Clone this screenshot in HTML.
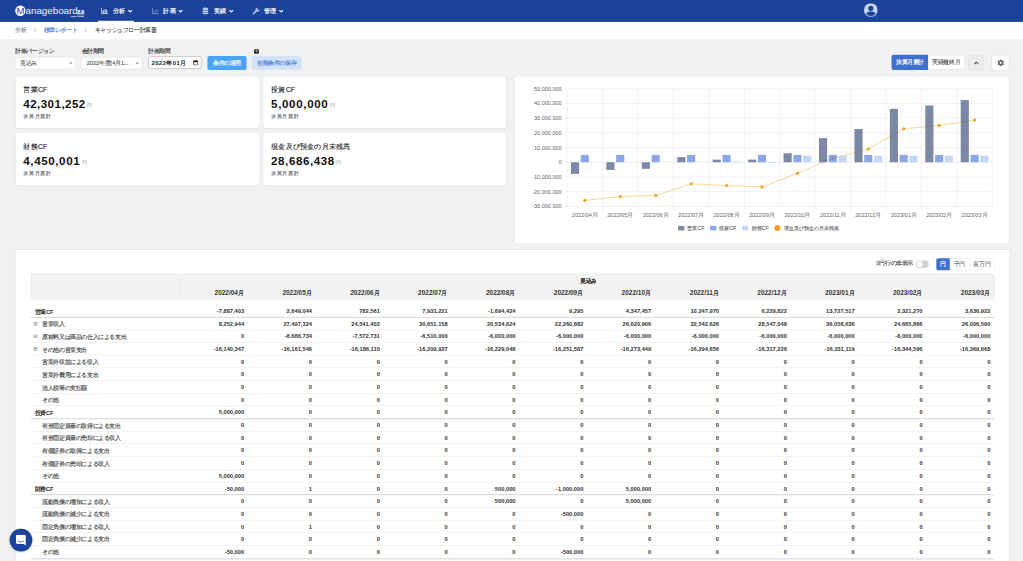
<!DOCTYPE html>
<html lang="ja">
<head>
<meta charset="utf-8">
<title>キャッシュフロー計算書</title>
<style>
*{box-sizing:border-box;margin:0;padding:0}
html,body{width:1023px;height:561px;overflow:hidden;background:#f1f1f1}
body{font-family:"Liberation Sans",sans-serif;color:#333}
#cv{position:absolute;left:0;top:0;width:2560px;height:1404px;transform:scale(0.399609);transform-origin:0 0;background:#f1f1f1;overflow:hidden;font-size:14px;line-height:1}
.abs{position:absolute;white-space:nowrap}
.tw{-webkit-text-stroke:.45px currentColor}
/* navbar */
#nav{position:absolute;left:0;top:0;width:2560px;height:55.05px;background:#1b439b}
.logo-c{position:absolute;left:38.04px;top:13.51px;width:26.03px;height:26.03px;border-radius:50%;background:#fff;color:#1b439b;font-weight:normal;font-size:24px;line-height:26.53px;text-align:center}
.logo-t{position:absolute;left:64.06px;top:13.26px;width:130.13px;font-size:24.6px;line-height:27.53px;color:#eef2fb;letter-spacing:-0.1px;overflow:hidden}
.logo-v{position:absolute;left:193.19px;top:25.02px;width:17.77px;font-size:12.6px;font-weight:bold;color:#fff;line-height:11.51px;border-bottom:1.6px solid #fff;height:13.01px;overflow:visible;-webkit-text-stroke:.6px #fff;letter-spacing:-.2px}
.logo-s{position:absolute;left:165.66px;top:39.04px;width:45.04px;height:4.0px;font-size:4.5px;line-height:4.0px;color:#fff;font-weight:bold;overflow:hidden;text-align:right}
.ni{position:absolute;top:0;height:55.05px;color:#fff}
.ni .t{position:absolute;top:19.02px;font-size:16px;font-weight:bold;line-height:17.52px;white-space:nowrap;width:35.03px;overflow:hidden}
.ni svg{position:absolute}
.ni.act{border-bottom:3.5px solid #fff}
/* breadcrumb */
#bc{position:absolute;left:0;top:55.05px;width:2560px;height:43.04px;background:#fff}
#bc .abs{-webkit-text-stroke:.35px currentColor;top:12.26px;font-size:14px;line-height:16.02px;overflow:hidden}
/* filters */
.flab{-webkit-text-stroke:.4px currentColor;position:absolute;top:119.87px;font-size:14px;line-height:16.02px;color:#444;white-space:nowrap;overflow:hidden}
.sel{-webkit-text-stroke:.3px currentColor;position:absolute;top:143.39px;height:29.53px;background:#fff;border:1.5px solid #d8d8d8;border-radius:5px;font-size:14px;line-height:26.53px;color:#555;white-space:nowrap;overflow:hidden;padding-left:11.76px}
.btn{-webkit-text-stroke:.4px currentColor;position:absolute;font-size:14px;text-align:center;white-space:nowrap;overflow:hidden}
.card{position:absolute;background:#fff;border-radius:8px;box-shadow:0 0 2px rgba(0,0,0,.08)}
.kt{-webkit-text-stroke:.3px currentColor;position:absolute;left:19.52px;top:24.52px;font-size:18px;line-height:20.02px;color:#222;white-space:nowrap;width:300.29px;overflow:hidden}
.kv{position:absolute;left:19.02px;top:53.8px;font-size:29px;font-weight:bold;line-height:30.03px;color:#111;white-space:nowrap;letter-spacing:1.1px}
.kv span{font-size:12px;font-weight:normal;color:#888;margin-left:3.25px;letter-spacing:0;position:relative;top:-1px}
.ks{-webkit-text-stroke:.4px currentColor;position:absolute;left:19.52px;top:93.34px;font-size:13.5px;line-height:15.01px;color:#777;white-space:nowrap;width:100.1px;overflow:hidden}
svg.chart{position:absolute;left:0;top:0}
svg.chart text{font-family:"Liberation Sans",sans-serif}
.tk{font-size:5.55px;fill:#666}
.lg{font-size:5.3px;fill:#666;stroke:#666;stroke-width:.12px}
/* table */
#tcard{position:absolute;left:39.29px;top:625.36px;width:2486.68px;height:825.81px;background:#fff;box-shadow:0 0 0 1px #dedede;border-radius:6px}
#thead{position:absolute;left:37.54px;top:59.56px;width:2412.11px;height:64.06px;background:#f2f2f2;border:1px solid #e3e3e3}
#thead .vl{position:absolute;left:373.61px;top:0;width:1px;height:100%;background:#e3e3e3}
.hc{position:absolute;top:37.29px;height:17.52px;line-height:17.52px;font-size:16.2px;font-weight:bold;color:#333;text-align:right;padding-right:11.01px;white-space:nowrap}
.r{position:absolute;left:37.54px;width:2412.11px;height:31.72px;border-bottom:1px solid #e1e1e1}
.r.sec{border-bottom:2px solid #cdcdcd;height:32.41px}
.r.last{border-bottom:3.6px solid #d6dce6;height:35.03px}
.r .l{-webkit-text-stroke:.45px currentColor;position:absolute;left:0;top:0;width:372.86px;height:100%;line-height:34.03px;font-size:14px;color:#555;white-space:nowrap;overflow:hidden}
.r .l.sec{font-weight:bold;color:#2a2a2a;padding-left:10.01px;-webkit-text-stroke:0}
.r .lt{position:absolute;left:29.03px;top:0}
.pl{position:absolute;left:7.51px;top:10.76px;width:9.76px;height:9.76px}
.r .c{position:absolute;top:0;height:100%;line-height:33.78px;font-size:14.3px;font-weight:bold;color:#333;text-align:right;padding-right:10.51px;white-space:nowrap}
</style>
</head>
<body>
<div id="cv">

<!-- NAVBAR -->
<div id="nav">
  <div class="logo-c">M</div>
  <div class="logo-t">anageboard</div>
  <div class="logo-v">2.0</div>
  <div class="logo-s">Money Forward</div>

  <div class="ni act" style="left:245.24px;width:90.09px">
    <svg style="left:8.01px;top:20.02px" width="17.52" height="15.01" viewBox="0 0 14 12"><path d="M1 0v11h13" fill="none" stroke="#c9d6f2" stroke-width="1.9"/><path d="M4.6 9.4V4.6M7.8 9.4V2.4M11 9.4V3.6" stroke="#c9d6f2" stroke-width="2.3"/></svg>
    <div class="t" style="left:37.54px">分析</div>
    <svg style="left:75.07px;top:23.52px" width="11.51" height="8.51" viewBox="0 0 10 7"><path d="M1 1l4 4 4-4" fill="none" stroke="#fff" stroke-width="2.4"/></svg>
  </div>
  <div class="ni" style="left:371.11px;width:90.09px">
    <svg style="left:8.51px;top:20.02px" width="17.52" height="15.01" viewBox="0 0 14 12"><path d="M1 0v11h13" fill="none" stroke="#8fa6d8" stroke-width="1.6"/><path d="M3.5 8l3-3 2.5 2 3.5-4" fill="none" stroke="#8fa6d8" stroke-width="1.6"/></svg>
    <div class="t" style="left:37.29px">計画</div>
    <svg style="left:75.32px;top:23.52px" width="11.51" height="8.51" viewBox="0 0 10 7"><path d="M1 1l4 4 4-4" fill="none" stroke="#fff" stroke-width="2.4"/></svg>
  </div>
  <div class="ni" style="left:496.99px;width:90.09px">
    <svg style="left:9.26px;top:18.27px" width="16.02" height="19.02" viewBox="0 0 12 14"><ellipse cx="6" cy="3" rx="5.5" ry="2.6" fill="#b9cbf2"/><path d="M.5 5.2c1 1.6 10 1.6 11 0v2.6c-1 1.7-10 1.7-11 0zM.5 9c1 1.6 10 1.6 11 0v2.6c-1 1.9-10 1.9-11 0z" fill="#c9d6f2"/></svg>
    <div class="t" style="left:37.79px">実績</div>
    <svg style="left:76.07px;top:23.52px" width="11.51" height="8.51" viewBox="0 0 10 7"><path d="M1 1l4 4 4-4" fill="none" stroke="#fff" stroke-width="2.4"/></svg>
  </div>
  <div class="ni" style="left:622.86px;width:90.09px">
    <svg style="left:9.26px;top:19.02px" width="17.52" height="17.52" viewBox="0 0 14 14"><path d="M1.2 12.8L7.5 6.4" stroke="#b9cbf2" stroke-width="3.3" stroke-linecap="round" fill="none"/><path d="M13.4 3.2l-2.2 2.2-2-.6-.6-2L10.8.6A3.6 3.6 0 0 0 6.4 5.6l1.9 1.9A3.6 3.6 0 0 0 13.4 3.2z" fill="#b9cbf2" stroke="#b9cbf2" stroke-width=".8"/></svg>
    <div class="t" style="left:37.54px">管理</div>
    <svg style="left:74.82px;top:23.52px" width="11.51" height="8.51" viewBox="0 0 10 7"><path d="M1 1l4 4 4-4" fill="none" stroke="#fff" stroke-width="2.4"/></svg>
  </div>

  <svg class="abs" style="left:2161.61px;top:7.76px" width="34.53" height="34.53" viewBox="0 0 28 28"><circle cx="14" cy="14" r="14" fill="#c7d7f7"/><circle cx="14" cy="10.4" r="5.2" fill="#1b439b"/><path d="M4.2 21.4c1.6-3.2 5.4-4.4 9.8-4.4s8.200 1.200 9.800 4.400A11.800 11.800 0 0 1 14 26a11.800 11.800 0 0 1-9.800-4.600z" fill="#1b439b"/></svg>
</div>

<!-- BREADCRUMB -->
<div id="bc">
  <div class="abs" style="left:38.04px;color:#8a8a8a;width:28.03px">分析</div>
  <svg class="abs" style="left:84.08px;top:15.01px" width="8.51" height="11.51" viewBox="0 0 7 10"><path d="M1 1l4.4 4L1 9" fill="none" stroke="#888" stroke-width="1.3"/></svg>
  <div class="abs" style="left:109.11px;color:#4c82d8;width:84.08px">標準レポート</div>
  <svg class="abs" style="left:210.71px;top:15.01px" width="8.51" height="11.51" viewBox="0 0 7 10"><path d="M1 1l4.4 4L1 9" fill="none" stroke="#888" stroke-width="1.3"/></svg>
  <div class="abs" style="left:237.48px;color:#555;width:155.15px">キャッシュフロー計算書</div>
</div>

<!-- FILTERS -->
<div class="flab" style="left:38.04px;width:98.1px">計画バージョン</div>
<div class="flab" style="left:204.2px;width:56.56px">会計期間</div>
<div class="flab" style="left:370.86px;width:56.56px">計画期間</div>
<div class="sel" style="left:38.04px;width:151.15px">見込み
  <svg class="abs" style="left:133.13px;top:11.01px" width="9.01" height="6.51" viewBox="0 0 10 7"><path d="M1 1l4 4 4-4" fill="none" stroke="#555" stroke-width="2.4"/></svg></div>
<div class="sel" style="left:204.2px;width:152.15px">2022年度(4月1...
  <svg class="abs" style="left:133.63px;top:11.01px" width="9.01" height="6.51" viewBox="0 0 10 7"><path d="M1 1l4 4 4-4" fill="none" stroke="#555" stroke-width="2.4"/></svg></div>
<div class="sel" style="left:370.86px;top:140.89px;width:133.63px;height:31.03px;border:1px solid #8d8d8d;border-radius:4px;padding-left:7.01px;font-size:15px;color:#222;font-weight:bold;line-height:29.53px;letter-spacing:1px;-webkit-text-stroke:0">2022年01月
  <svg class="abs" style="left:111.61px;top:8.51px" width="13.51" height="14.01" viewBox="0 0 11 12"><rect x="1" y="2" width="9" height="9" rx="1.2" fill="none" stroke="#222" stroke-width="1.6"/><rect x="1" y="2" width="9" height="3" fill="#222"/><path d="M3.2 0v3M7.8 0v3" stroke="#222" stroke-width="1.4"/></svg></div>
<div class="btn" style="left:519.26px;top:140.14px;width:97.35px;height:35.28px;line-height:35.28px;background:#4ca3f6;color:#fff;border-radius:5px">条件の適用</div>
<svg class="abs" style="left:634.87px;top:121.62px" width="13.76" height="13.76" viewBox="0 0 12 12"><circle cx="6" cy="6" r="6" fill="#333"/><path d="M4.2 4.6c0-2.6 4-2.4 3.8-.2-.1 1.3-1.8 1.4-1.9 2.8" fill="none" stroke="#fff" stroke-width="1.5"/><circle cx="6.1" cy="9.3" r=".95" fill="#fff"/></svg>
<div class="btn" style="left:630.12px;top:140.14px;width:124.62px;height:35.28px;line-height:35.28px;background:#d5e3fa;color:#4a7fd8;border-radius:5px">初期条件の保存</div>

<!-- right controls -->
<div class="btn" style="left:2231.43px;top:137.38px;width:91.34px;height:38.04px;line-height:38.04px;background:#3e70cc;color:#fff;font-weight:bold;-webkit-text-stroke:0;border-radius:5px 0 0 5px">決算月累計</div>
<div class="btn" style="left:2322.77px;top:137.38px;width:90.84px;height:38.04px;line-height:36.54px;background:#fff;color:#3a3a3a;-webkit-text-stroke:.15px currentColor;border:1.6px solid #d6d6d6;border-left:0;border-radius:0 5px 5px 0">実績最終月</div>
<div class="btn" style="left:2423.37px;top:137.88px;width:37.79px;height:37.54px;background:#ececec;border:1.6px solid #d4d4d4;border-radius:5px">
  <svg class="abs" style="left:12.76px;top:14.26px" width="12.51" height="8.51" viewBox="0 0 10 7"><path d="M1 6l4-4 4 4" fill="none" stroke="#5e5e5e" stroke-width="2.5"/></svg></div>
<div class="btn" style="left:2481.42px;top:137.88px;width:44.54px;height:37.79px;background:#fff;border:1.6px solid #dcdcdc;border-radius:5px;box-shadow:0 1px 2px rgba(0,0,0,.06)">
  <svg class="abs" style="left:13.76px;top:10.26px" width="16.52" height="16.52" viewBox="0 0 14 14"><path d="M5.20 2.01L5.83 0.10L8.17 0.10L8.80 2.01L10.42 2.95L12.39 2.54L13.56 4.56L12.22 6.06L12.22 7.94L13.56 9.44L12.39 11.46L10.42 11.05L8.80 11.99L8.17 13.90L5.83 13.90L5.20 11.99L3.58 11.05L1.61 11.46L0.44 9.44L1.78 7.94L1.78 6.06L0.44 4.56L1.61 2.54L3.58 2.95z" fill="#666" stroke="#666" stroke-width=".8" stroke-linejoin="round"/><circle cx="7" cy="7" r="2.3" fill="#fff"/></svg></div>

<!-- KPI cards -->
<div class="card" style="left:39.29px;top:190.94px;width:608.34px;height:130.38px"><div class="kt">営業CF</div><div class="kv">42,301,252<span>円</span></div><div class="ks">決算月累計</div></div>
<div class="card" style="left:659.39px;top:190.94px;width:607.84px;height:130.38px"><div class="kt">投資CF</div><div class="kv" style="letter-spacing:1.6px">5,000,000<span>円</span></div><div class="ks">決算月累計</div></div>
<div class="card" style="left:39.29px;top:333.33px;width:608.34px;height:130.38px"><div class="kt">財務CF</div><div class="kv" style="letter-spacing:1.5px">4,450,001<span>円</span></div><div class="ks">決算月累計</div></div>
<div class="card" style="left:659.39px;top:333.33px;width:607.84px;height:130.38px"><div class="kt">現金及び預金の月末残高</div><div class="kv" style="letter-spacing:1.4px">28,686,438<span>円</span></div><div class="ks">決算月累計</div></div>

<!-- chart card -->
<div class="card" style="left:1288.26px;top:190.94px;width:1237.71px;height:417.41px">
<svg class="chart" viewBox="514.8 76.3 494.6 166.8" width="1237.71" height="417.41">
<line x1="563.60" y1="206.34" x2="992.40" y2="206.34" stroke="#dddddd" stroke-width="0.4"/>
<text x="561.80" y="208.29" text-anchor="end" class="tk">-30,000,000</text>
<line x1="563.60" y1="191.64" x2="992.40" y2="191.64" stroke="#dddddd" stroke-width="0.4"/>
<text x="561.80" y="193.59" text-anchor="end" class="tk">-20,000,000</text>
<line x1="563.60" y1="176.94" x2="992.40" y2="176.94" stroke="#dddddd" stroke-width="0.4"/>
<text x="561.80" y="178.89" text-anchor="end" class="tk">-10,000,000</text>
<line x1="563.60" y1="162.24" x2="992.40" y2="162.24" stroke="#dddddd" stroke-width="0.4"/>
<text x="561.80" y="164.19" text-anchor="end" class="tk">0</text>
<line x1="563.60" y1="147.54" x2="992.40" y2="147.54" stroke="#dddddd" stroke-width="0.4"/>
<text x="561.80" y="149.49" text-anchor="end" class="tk">10,000,000</text>
<line x1="563.60" y1="132.84" x2="992.40" y2="132.84" stroke="#dddddd" stroke-width="0.4"/>
<text x="561.80" y="134.79" text-anchor="end" class="tk">20,000,000</text>
<line x1="563.60" y1="118.14" x2="992.40" y2="118.14" stroke="#dddddd" stroke-width="0.4"/>
<text x="561.80" y="120.09" text-anchor="end" class="tk">30,000,000</text>
<line x1="563.60" y1="103.44" x2="992.40" y2="103.44" stroke="#dddddd" stroke-width="0.4"/>
<text x="561.80" y="105.39" text-anchor="end" class="tk">40,000,000</text>
<line x1="563.60" y1="88.74" x2="992.40" y2="88.74" stroke="#dddddd" stroke-width="0.4"/>
<text x="561.80" y="90.69" text-anchor="end" class="tk">50,000,000</text>
<line x1="567.20" y1="88.74" x2="567.20" y2="209.94" stroke="#dddddd" stroke-width="0.4"/>
<line x1="602.63" y1="88.74" x2="602.63" y2="209.94" stroke="#dddddd" stroke-width="0.4"/>
<line x1="638.07" y1="88.74" x2="638.07" y2="209.94" stroke="#dddddd" stroke-width="0.4"/>
<line x1="673.50" y1="88.74" x2="673.50" y2="209.94" stroke="#dddddd" stroke-width="0.4"/>
<line x1="708.93" y1="88.74" x2="708.93" y2="209.94" stroke="#dddddd" stroke-width="0.4"/>
<line x1="744.37" y1="88.74" x2="744.37" y2="209.94" stroke="#dddddd" stroke-width="0.4"/>
<line x1="779.80" y1="88.74" x2="779.80" y2="209.94" stroke="#dddddd" stroke-width="0.4"/>
<line x1="815.23" y1="88.74" x2="815.23" y2="209.94" stroke="#dddddd" stroke-width="0.4"/>
<line x1="850.67" y1="88.74" x2="850.67" y2="209.94" stroke="#dddddd" stroke-width="0.4"/>
<line x1="886.10" y1="88.74" x2="886.10" y2="209.94" stroke="#dddddd" stroke-width="0.4"/>
<line x1="921.53" y1="88.74" x2="921.53" y2="209.94" stroke="#dddddd" stroke-width="0.4"/>
<line x1="956.97" y1="88.74" x2="956.97" y2="209.94" stroke="#dddddd" stroke-width="0.4"/>
<line x1="992.40" y1="88.74" x2="992.40" y2="209.94" stroke="#dddddd" stroke-width="0.4"/>
<polyline fill="none" stroke="#f7c46f" stroke-width="0.7" points="584.92,200.46 620.35,196.57 655.78,195.42 691.22,183.76 726.65,185.52 762.08,186.97 797.52,173.23 832.95,158.17 868.38,149.01 903.82,128.83 939.25,125.42 974.68,120.07"/>
<circle cx="584.92" cy="200.46" r="1.65" fill="#f2a52b"/>
<circle cx="620.35" cy="196.57" r="1.65" fill="#f2a52b"/>
<circle cx="655.78" cy="195.42" r="1.65" fill="#f2a52b"/>
<circle cx="691.22" cy="183.76" r="1.65" fill="#f2a52b"/>
<circle cx="726.65" cy="185.52" r="1.65" fill="#f2a52b"/>
<circle cx="762.08" cy="186.97" r="1.65" fill="#f2a52b"/>
<circle cx="797.52" cy="173.23" r="1.65" fill="#f2a52b"/>
<circle cx="832.95" cy="158.17" r="1.65" fill="#f2a52b"/>
<circle cx="868.38" cy="149.01" r="1.65" fill="#f2a52b"/>
<circle cx="903.82" cy="128.83" r="1.65" fill="#f2a52b"/>
<circle cx="939.25" cy="125.42" r="1.65" fill="#f2a52b"/>
<circle cx="974.68" cy="120.07" r="1.65" fill="#f2a52b"/>
<rect x="571.05" y="162.24" width="8.14" height="11.59" fill="rgba(50,70,115,.64)"/>
<rect x="580.85" y="154.89" width="8.14" height="7.35" fill="rgba(90,130,220,.7)"/>
<rect x="590.65" y="162.24" width="8.14" height="0.07" fill="rgba(165,195,248,.65)"/>
<rect x="606.48" y="162.24" width="8.14" height="7.70" fill="rgba(50,70,115,.64)"/>
<rect x="616.28" y="154.89" width="8.14" height="7.35" fill="rgba(90,130,220,.7)"/>
<rect x="626.08" y="162.24" width="8.14" height="0.07" fill="rgba(165,195,248,.65)"/>
<rect x="641.91" y="162.24" width="8.14" height="6.55" fill="rgba(50,70,115,.64)"/>
<rect x="651.71" y="154.89" width="8.14" height="7.35" fill="rgba(90,130,220,.7)"/>
<rect x="661.52" y="162.24" width="8.14" height="0.07" fill="rgba(165,195,248,.65)"/>
<rect x="677.35" y="157.13" width="8.14" height="5.11" fill="rgba(50,70,115,.64)"/>
<rect x="687.15" y="154.89" width="8.14" height="7.35" fill="rgba(90,130,220,.7)"/>
<rect x="696.95" y="162.24" width="8.14" height="0.07" fill="rgba(165,195,248,.65)"/>
<rect x="712.78" y="159.62" width="8.14" height="2.62" fill="rgba(50,70,115,.64)"/>
<rect x="722.58" y="154.89" width="8.14" height="7.35" fill="rgba(90,130,220,.7)"/>
<rect x="732.38" y="161.58" width="8.14" height="0.66" fill="rgba(165,195,248,.65)"/>
<rect x="748.21" y="159.61" width="8.14" height="2.63" fill="rgba(50,70,115,.64)"/>
<rect x="758.01" y="154.89" width="8.14" height="7.35" fill="rgba(90,130,220,.7)"/>
<rect x="767.82" y="162.24" width="8.14" height="0.81" fill="rgba(165,195,248,.65)"/>
<rect x="783.65" y="153.22" width="8.14" height="9.02" fill="rgba(50,70,115,.64)"/>
<rect x="793.45" y="154.89" width="8.14" height="7.35" fill="rgba(90,130,220,.7)"/>
<rect x="803.25" y="155.70" width="8.14" height="6.54" fill="rgba(165,195,248,.65)"/>
<rect x="819.08" y="138.15" width="8.14" height="24.09" fill="rgba(50,70,115,.64)"/>
<rect x="828.88" y="154.89" width="8.14" height="7.35" fill="rgba(90,130,220,.7)"/>
<rect x="838.68" y="155.70" width="8.14" height="6.54" fill="rgba(165,195,248,.65)"/>
<rect x="854.51" y="129.00" width="8.14" height="33.24" fill="rgba(50,70,115,.64)"/>
<rect x="864.31" y="154.89" width="8.14" height="7.35" fill="rgba(90,130,220,.7)"/>
<rect x="874.12" y="155.70" width="8.14" height="6.54" fill="rgba(165,195,248,.65)"/>
<rect x="889.95" y="108.82" width="8.14" height="53.42" fill="rgba(50,70,115,.64)"/>
<rect x="899.75" y="154.89" width="8.14" height="7.35" fill="rgba(90,130,220,.7)"/>
<rect x="909.55" y="155.70" width="8.14" height="6.54" fill="rgba(165,195,248,.65)"/>
<rect x="925.38" y="105.40" width="8.14" height="56.84" fill="rgba(50,70,115,.64)"/>
<rect x="935.18" y="154.89" width="8.14" height="7.35" fill="rgba(90,130,220,.7)"/>
<rect x="944.98" y="155.70" width="8.14" height="6.54" fill="rgba(165,195,248,.65)"/>
<rect x="960.81" y="100.06" width="8.14" height="62.18" fill="rgba(50,70,115,.64)"/>
<rect x="970.61" y="154.89" width="8.14" height="7.35" fill="rgba(90,130,220,.7)"/>
<rect x="980.42" y="155.70" width="8.14" height="6.54" fill="rgba(165,195,248,.65)"/>
<text x="584.92" y="217.1" text-anchor="middle" class="tk">2022/04月</text>
<text x="620.35" y="217.1" text-anchor="middle" class="tk">2022/05月</text>
<text x="655.78" y="217.1" text-anchor="middle" class="tk">2022/06月</text>
<text x="691.22" y="217.1" text-anchor="middle" class="tk">2022/07月</text>
<text x="726.65" y="217.1" text-anchor="middle" class="tk">2022/08月</text>
<text x="762.08" y="217.1" text-anchor="middle" class="tk">2022/09月</text>
<text x="797.52" y="217.1" text-anchor="middle" class="tk">2022/10月</text>
<text x="832.95" y="217.1" text-anchor="middle" class="tk">2022/11月</text>
<text x="868.38" y="217.1" text-anchor="middle" class="tk">2022/12月</text>
<text x="903.82" y="217.1" text-anchor="middle" class="tk">2023/01月</text>
<text x="939.25" y="217.1" text-anchor="middle" class="tk">2023/02月</text>
<text x="974.68" y="217.1" text-anchor="middle" class="tk">2023/03月</text>
<rect x="678.2" y="225.9" width="6.2" height="4.5" fill="#7e8ba8"/><text x="687.5" y="229.8" class="lg">営業CF</text>
<rect x="710.2" y="225.9" width="6.2" height="4.5" fill="#8aa6e6"/><text x="719.4" y="229.8" class="lg">投資CF</text>
<rect x="742.1" y="225.9" width="6.2" height="4.5" fill="#c4d6fa"/><text x="751.7" y="229.8" class="lg">財務CF</text>
<circle cx="777.6" cy="228" r="3.1" fill="#f2a52b"/><text x="783.8" y="229.8" class="lg">現金及び預金の月末残高</text>
</svg>
</div>

<!-- table card -->
<div id="tcard">
  <div class="abs" style="left:2153.6px;top:27.03px;width:95.09px;font-size:13.8px;line-height:16.02px;color:#4a4a4a;-webkit-text-stroke:.4px currentColor;overflow:hidden">0円行の非表示</div>
  <div class="abs" style="left:2252.95px;top:26.28px;width:32.28px;height:18.02px;border-radius:9.01px;background:#d2d2d2"><div style="position:absolute;left:1.5px;top:1.5px;width:15.01px;height:15.01px;border-radius:50%;background:#fff"></div></div>
  <div class="btn" style="left:2303.25px;top:20.77px;width:34.03px;height:29.53px;line-height:29.53px;background:#3e70cc;color:#fff;font-weight:bold;-webkit-text-stroke:0;border-radius:4px 0 0 4px">円</div>
  <div class="btn" style="left:2337.28px;top:20.77px;width:49.3px;height:29.53px;line-height:28.53px;background:#fff;color:#444;-webkit-text-stroke:0;border:1.5px solid #d8d8d8;border-left:0">千円</div>
  <div class="btn" style="left:2386.58px;top:20.77px;width:62.81px;height:29.53px;line-height:28.53px;background:#fff;color:#444;-webkit-text-stroke:0;border:1.5px solid #d8d8d8;border-left:0;border-radius:0 4px 4px 0">百万円</div>

  <div id="thead"><div class="vl"></div>
    <div class="abs" style="left:1373.84px;top:8.51px;font-size:14px;font-weight:bold;-webkit-text-stroke:.3px currentColor;line-height:16.02px;color:#333;width:39.04px;overflow:hidden">見込み</div>
    <div class="hc" style="left:374.92px;width:169.77px">2022/04月</div><div class="hc" style="left:544.68px;width:169.77px">2022/05月</div><div class="hc" style="left:714.45px;width:169.77px">2022/06月</div><div class="hc" style="left:884.21px;width:169.77px">2022/07月</div><div class="hc" style="left:1053.98px;width:169.77px">2022/08月</div><div class="hc" style="left:1223.75px;width:169.77px">2022/09月</div><div class="hc" style="left:1393.51px;width:169.77px">2022/10月</div><div class="hc" style="left:1563.28px;width:169.77px">2022/11月</div><div class="hc" style="left:1733.04px;width:169.77px">2022/12月</div><div class="hc" style="left:1902.81px;width:169.77px">2023/01月</div><div class="hc" style="left:2072.57px;width:169.77px">2023/02月</div><div class="hc" style="left:2242.34px;width:169.77px">2023/03月</div>
  </div>
<div class="r sec" style="top:137.2px"><div class="l sec">営業CF</div><div class="c" style="left:374.92px;width:169.77px">-7,887,403</div><div class="c" style="left:544.68px;width:169.77px">2,649,044</div><div class="c" style="left:714.45px;width:169.77px">782,561</div><div class="c" style="left:884.21px;width:169.77px">7,931,221</div><div class="c" style="left:1053.98px;width:169.77px">-1,694,424</div><div class="c" style="left:1223.75px;width:169.77px">9,295</div><div class="c" style="left:1393.51px;width:169.77px">4,347,457</div><div class="c" style="left:1563.28px;width:169.77px">10,247,970</div><div class="c" style="left:1733.04px;width:169.77px">6,229,822</div><div class="c" style="left:1902.81px;width:169.77px">13,727,517</div><div class="c" style="left:2072.57px;width:169.77px">2,321,270</div><div class="c" style="left:2242.34px;width:169.77px">3,636,922</div></div>
<div class="r exp" style="top:168.91px"><div class="l"><svg class="pl" viewBox="0 0 10 10"><rect x=".8" y=".8" width="8.4" height="8.4" fill="none" stroke="#707070" stroke-width="1.5"/><path d="M5 2.6v4.8M2.6 5h4.8" stroke="#707070" stroke-width="1.5"/></svg><span class="lt">営業収入</span></div><div class="c" style="left:374.92px;width:169.77px">8,252,944</div><div class="c" style="left:544.68px;width:169.77px">27,497,324</div><div class="c" style="left:714.45px;width:169.77px">24,541,402</div><div class="c" style="left:884.21px;width:169.77px">30,651,158</div><div class="c" style="left:1053.98px;width:169.77px">20,534,624</div><div class="c" style="left:1223.75px;width:169.77px">22,260,882</div><div class="c" style="left:1393.51px;width:169.77px">26,620,906</div><div class="c" style="left:1563.28px;width:169.77px">32,542,626</div><div class="c" style="left:1733.04px;width:169.77px">28,547,048</div><div class="c" style="left:1902.81px;width:169.77px">36,058,636</div><div class="c" style="left:2072.57px;width:169.77px">24,665,866</div><div class="c" style="left:2242.34px;width:169.77px">26,006,590</div></div>
<div class="r exp" style="top:200.63px"><div class="l"><svg class="pl" viewBox="0 0 10 10"><rect x=".8" y=".8" width="8.4" height="8.4" fill="none" stroke="#707070" stroke-width="1.5"/><path d="M5 2.6v4.8M2.6 5h4.8" stroke="#707070" stroke-width="1.5"/></svg><span class="lt">原材料又は商品の仕入による支出</span></div><div class="c" style="left:374.92px;width:169.77px">0</div><div class="c" style="left:544.68px;width:169.77px">-8,686,734</div><div class="c" style="left:714.45px;width:169.77px">-7,572,731</div><div class="c" style="left:884.21px;width:169.77px">-6,510,000</div><div class="c" style="left:1053.98px;width:169.77px">-6,000,000</div><div class="c" style="left:1223.75px;width:169.77px">-6,000,000</div><div class="c" style="left:1393.51px;width:169.77px">-6,000,000</div><div class="c" style="left:1563.28px;width:169.77px">-6,000,000</div><div class="c" style="left:1733.04px;width:169.77px">-6,000,000</div><div class="c" style="left:1902.81px;width:169.77px">-6,000,000</div><div class="c" style="left:2072.57px;width:169.77px">-6,000,000</div><div class="c" style="left:2242.34px;width:169.77px">-6,000,000</div></div>
<div class="r exp" style="top:232.35px"><div class="l"><svg class="pl" viewBox="0 0 10 10"><rect x=".8" y=".8" width="8.4" height="8.4" fill="none" stroke="#707070" stroke-width="1.5"/><path d="M5 2.6v4.8M2.6 5h4.8" stroke="#707070" stroke-width="1.5"/></svg><span class="lt">その他の営業支出</span></div><div class="c" style="left:374.92px;width:169.77px">-16,140,347</div><div class="c" style="left:544.68px;width:169.77px">-16,161,546</div><div class="c" style="left:714.45px;width:169.77px">-16,186,110</div><div class="c" style="left:884.21px;width:169.77px">-16,209,937</div><div class="c" style="left:1053.98px;width:169.77px">-16,229,048</div><div class="c" style="left:1223.75px;width:169.77px">-16,251,587</div><div class="c" style="left:1393.51px;width:169.77px">-16,273,449</div><div class="c" style="left:1563.28px;width:169.77px">-16,294,656</div><div class="c" style="left:1733.04px;width:169.77px">-16,317,226</div><div class="c" style="left:1902.81px;width:169.77px">-16,331,119</div><div class="c" style="left:2072.57px;width:169.77px">-16,344,596</div><div class="c" style="left:2242.34px;width:169.77px">-16,369,668</div></div>
<div class="r sub" style="top:264.06px"><div class="l"><span class="lt">営業外収益による収入</span></div><div class="c" style="left:374.92px;width:169.77px">0</div><div class="c" style="left:544.68px;width:169.77px">0</div><div class="c" style="left:714.45px;width:169.77px">0</div><div class="c" style="left:884.21px;width:169.77px">0</div><div class="c" style="left:1053.98px;width:169.77px">0</div><div class="c" style="left:1223.75px;width:169.77px">0</div><div class="c" style="left:1393.51px;width:169.77px">0</div><div class="c" style="left:1563.28px;width:169.77px">0</div><div class="c" style="left:1733.04px;width:169.77px">0</div><div class="c" style="left:1902.81px;width:169.77px">0</div><div class="c" style="left:2072.57px;width:169.77px">0</div><div class="c" style="left:2242.34px;width:169.77px">0</div></div>
<div class="r sub" style="top:295.78px"><div class="l"><span class="lt">営業外費用による支出</span></div><div class="c" style="left:374.92px;width:169.77px">0</div><div class="c" style="left:544.68px;width:169.77px">0</div><div class="c" style="left:714.45px;width:169.77px">0</div><div class="c" style="left:884.21px;width:169.77px">0</div><div class="c" style="left:1053.98px;width:169.77px">0</div><div class="c" style="left:1223.75px;width:169.77px">0</div><div class="c" style="left:1393.51px;width:169.77px">0</div><div class="c" style="left:1563.28px;width:169.77px">0</div><div class="c" style="left:1733.04px;width:169.77px">0</div><div class="c" style="left:1902.81px;width:169.77px">0</div><div class="c" style="left:2072.57px;width:169.77px">0</div><div class="c" style="left:2242.34px;width:169.77px">0</div></div>
<div class="r sub" style="top:327.49px"><div class="l"><span class="lt">法人税等の支払額</span></div><div class="c" style="left:374.92px;width:169.77px">0</div><div class="c" style="left:544.68px;width:169.77px">0</div><div class="c" style="left:714.45px;width:169.77px">0</div><div class="c" style="left:884.21px;width:169.77px">0</div><div class="c" style="left:1053.98px;width:169.77px">0</div><div class="c" style="left:1223.75px;width:169.77px">0</div><div class="c" style="left:1393.51px;width:169.77px">0</div><div class="c" style="left:1563.28px;width:169.77px">0</div><div class="c" style="left:1733.04px;width:169.77px">0</div><div class="c" style="left:1902.81px;width:169.77px">0</div><div class="c" style="left:2072.57px;width:169.77px">0</div><div class="c" style="left:2242.34px;width:169.77px">0</div></div>
<div class="r sub" style="top:359.21px"><div class="l"><span class="lt">その他</span></div><div class="c" style="left:374.92px;width:169.77px">0</div><div class="c" style="left:544.68px;width:169.77px">0</div><div class="c" style="left:714.45px;width:169.77px">0</div><div class="c" style="left:884.21px;width:169.77px">0</div><div class="c" style="left:1053.98px;width:169.77px">0</div><div class="c" style="left:1223.75px;width:169.77px">0</div><div class="c" style="left:1393.51px;width:169.77px">0</div><div class="c" style="left:1563.28px;width:169.77px">0</div><div class="c" style="left:1733.04px;width:169.77px">0</div><div class="c" style="left:1902.81px;width:169.77px">0</div><div class="c" style="left:2072.57px;width:169.77px">0</div><div class="c" style="left:2242.34px;width:169.77px">0</div></div>
<div class="r sec" style="top:390.93px"><div class="l sec">投資CF</div><div class="c" style="left:374.92px;width:169.77px">5,000,000</div><div class="c" style="left:544.68px;width:169.77px">0</div><div class="c" style="left:714.45px;width:169.77px">0</div><div class="c" style="left:884.21px;width:169.77px">0</div><div class="c" style="left:1053.98px;width:169.77px">0</div><div class="c" style="left:1223.75px;width:169.77px">0</div><div class="c" style="left:1393.51px;width:169.77px">0</div><div class="c" style="left:1563.28px;width:169.77px">0</div><div class="c" style="left:1733.04px;width:169.77px">0</div><div class="c" style="left:1902.81px;width:169.77px">0</div><div class="c" style="left:2072.57px;width:169.77px">0</div><div class="c" style="left:2242.34px;width:169.77px">0</div></div>
<div class="r sub" style="top:422.64px"><div class="l"><span class="lt">有形固定資産の取得による支出</span></div><div class="c" style="left:374.92px;width:169.77px">0</div><div class="c" style="left:544.68px;width:169.77px">0</div><div class="c" style="left:714.45px;width:169.77px">0</div><div class="c" style="left:884.21px;width:169.77px">0</div><div class="c" style="left:1053.98px;width:169.77px">0</div><div class="c" style="left:1223.75px;width:169.77px">0</div><div class="c" style="left:1393.51px;width:169.77px">0</div><div class="c" style="left:1563.28px;width:169.77px">0</div><div class="c" style="left:1733.04px;width:169.77px">0</div><div class="c" style="left:1902.81px;width:169.77px">0</div><div class="c" style="left:2072.57px;width:169.77px">0</div><div class="c" style="left:2242.34px;width:169.77px">0</div></div>
<div class="r sub" style="top:454.36px"><div class="l"><span class="lt">有形固定資産の売却による収入</span></div><div class="c" style="left:374.92px;width:169.77px">0</div><div class="c" style="left:544.68px;width:169.77px">0</div><div class="c" style="left:714.45px;width:169.77px">0</div><div class="c" style="left:884.21px;width:169.77px">0</div><div class="c" style="left:1053.98px;width:169.77px">0</div><div class="c" style="left:1223.75px;width:169.77px">0</div><div class="c" style="left:1393.51px;width:169.77px">0</div><div class="c" style="left:1563.28px;width:169.77px">0</div><div class="c" style="left:1733.04px;width:169.77px">0</div><div class="c" style="left:1902.81px;width:169.77px">0</div><div class="c" style="left:2072.57px;width:169.77px">0</div><div class="c" style="left:2242.34px;width:169.77px">0</div></div>
<div class="r sub" style="top:486.07px"><div class="l"><span class="lt">有価証券の取得による支出</span></div><div class="c" style="left:374.92px;width:169.77px">0</div><div class="c" style="left:544.68px;width:169.77px">0</div><div class="c" style="left:714.45px;width:169.77px">0</div><div class="c" style="left:884.21px;width:169.77px">0</div><div class="c" style="left:1053.98px;width:169.77px">0</div><div class="c" style="left:1223.75px;width:169.77px">0</div><div class="c" style="left:1393.51px;width:169.77px">0</div><div class="c" style="left:1563.28px;width:169.77px">0</div><div class="c" style="left:1733.04px;width:169.77px">0</div><div class="c" style="left:1902.81px;width:169.77px">0</div><div class="c" style="left:2072.57px;width:169.77px">0</div><div class="c" style="left:2242.34px;width:169.77px">0</div></div>
<div class="r sub" style="top:517.79px"><div class="l"><span class="lt">有価証券の売却による収入</span></div><div class="c" style="left:374.92px;width:169.77px">0</div><div class="c" style="left:544.68px;width:169.77px">0</div><div class="c" style="left:714.45px;width:169.77px">0</div><div class="c" style="left:884.21px;width:169.77px">0</div><div class="c" style="left:1053.98px;width:169.77px">0</div><div class="c" style="left:1223.75px;width:169.77px">0</div><div class="c" style="left:1393.51px;width:169.77px">0</div><div class="c" style="left:1563.28px;width:169.77px">0</div><div class="c" style="left:1733.04px;width:169.77px">0</div><div class="c" style="left:1902.81px;width:169.77px">0</div><div class="c" style="left:2072.57px;width:169.77px">0</div><div class="c" style="left:2242.34px;width:169.77px">0</div></div>
<div class="r sub" style="top:549.51px"><div class="l"><span class="lt">その他</span></div><div class="c" style="left:374.92px;width:169.77px">5,000,000</div><div class="c" style="left:544.68px;width:169.77px">0</div><div class="c" style="left:714.45px;width:169.77px">0</div><div class="c" style="left:884.21px;width:169.77px">0</div><div class="c" style="left:1053.98px;width:169.77px">0</div><div class="c" style="left:1223.75px;width:169.77px">0</div><div class="c" style="left:1393.51px;width:169.77px">0</div><div class="c" style="left:1563.28px;width:169.77px">0</div><div class="c" style="left:1733.04px;width:169.77px">0</div><div class="c" style="left:1902.81px;width:169.77px">0</div><div class="c" style="left:2072.57px;width:169.77px">0</div><div class="c" style="left:2242.34px;width:169.77px">0</div></div>
<div class="r sec" style="top:581.22px"><div class="l sec">財務CF</div><div class="c" style="left:374.92px;width:169.77px">-50,000</div><div class="c" style="left:544.68px;width:169.77px">1</div><div class="c" style="left:714.45px;width:169.77px">0</div><div class="c" style="left:884.21px;width:169.77px">0</div><div class="c" style="left:1053.98px;width:169.77px">500,000</div><div class="c" style="left:1223.75px;width:169.77px">-1,000,000</div><div class="c" style="left:1393.51px;width:169.77px">5,000,000</div><div class="c" style="left:1563.28px;width:169.77px">0</div><div class="c" style="left:1733.04px;width:169.77px">0</div><div class="c" style="left:1902.81px;width:169.77px">0</div><div class="c" style="left:2072.57px;width:169.77px">0</div><div class="c" style="left:2242.34px;width:169.77px">0</div></div>
<div class="r sub" style="top:612.94px"><div class="l"><span class="lt">流動負債の増加による収入</span></div><div class="c" style="left:374.92px;width:169.77px">0</div><div class="c" style="left:544.68px;width:169.77px">0</div><div class="c" style="left:714.45px;width:169.77px">0</div><div class="c" style="left:884.21px;width:169.77px">0</div><div class="c" style="left:1053.98px;width:169.77px">500,000</div><div class="c" style="left:1223.75px;width:169.77px">0</div><div class="c" style="left:1393.51px;width:169.77px">5,000,000</div><div class="c" style="left:1563.28px;width:169.77px">0</div><div class="c" style="left:1733.04px;width:169.77px">0</div><div class="c" style="left:1902.81px;width:169.77px">0</div><div class="c" style="left:2072.57px;width:169.77px">0</div><div class="c" style="left:2242.34px;width:169.77px">0</div></div>
<div class="r sub" style="top:644.65px"><div class="l"><span class="lt">流動負債の減少による支出</span></div><div class="c" style="left:374.92px;width:169.77px">0</div><div class="c" style="left:544.68px;width:169.77px">0</div><div class="c" style="left:714.45px;width:169.77px">0</div><div class="c" style="left:884.21px;width:169.77px">0</div><div class="c" style="left:1053.98px;width:169.77px">0</div><div class="c" style="left:1223.75px;width:169.77px">-500,000</div><div class="c" style="left:1393.51px;width:169.77px">0</div><div class="c" style="left:1563.28px;width:169.77px">0</div><div class="c" style="left:1733.04px;width:169.77px">0</div><div class="c" style="left:1902.81px;width:169.77px">0</div><div class="c" style="left:2072.57px;width:169.77px">0</div><div class="c" style="left:2242.34px;width:169.77px">0</div></div>
<div class="r sub" style="top:676.37px"><div class="l"><span class="lt">固定負債の増加による収入</span></div><div class="c" style="left:374.92px;width:169.77px">0</div><div class="c" style="left:544.68px;width:169.77px">1</div><div class="c" style="left:714.45px;width:169.77px">0</div><div class="c" style="left:884.21px;width:169.77px">0</div><div class="c" style="left:1053.98px;width:169.77px">0</div><div class="c" style="left:1223.75px;width:169.77px">0</div><div class="c" style="left:1393.51px;width:169.77px">0</div><div class="c" style="left:1563.28px;width:169.77px">0</div><div class="c" style="left:1733.04px;width:169.77px">0</div><div class="c" style="left:1902.81px;width:169.77px">0</div><div class="c" style="left:2072.57px;width:169.77px">0</div><div class="c" style="left:2242.34px;width:169.77px">0</div></div>
<div class="r sub" style="top:708.09px"><div class="l"><span class="lt">固定負債の減少による支出</span></div><div class="c" style="left:374.92px;width:169.77px">0</div><div class="c" style="left:544.68px;width:169.77px">0</div><div class="c" style="left:714.45px;width:169.77px">0</div><div class="c" style="left:884.21px;width:169.77px">0</div><div class="c" style="left:1053.98px;width:169.77px">0</div><div class="c" style="left:1223.75px;width:169.77px">0</div><div class="c" style="left:1393.51px;width:169.77px">0</div><div class="c" style="left:1563.28px;width:169.77px">0</div><div class="c" style="left:1733.04px;width:169.77px">0</div><div class="c" style="left:1902.81px;width:169.77px">0</div><div class="c" style="left:2072.57px;width:169.77px">0</div><div class="c" style="left:2242.34px;width:169.77px">0</div></div>
<div class="r sub last" style="top:739.8px"><div class="l"><span class="lt">その他</span></div><div class="c" style="left:374.92px;width:169.77px">-50,000</div><div class="c" style="left:544.68px;width:169.77px">0</div><div class="c" style="left:714.45px;width:169.77px">0</div><div class="c" style="left:884.21px;width:169.77px">0</div><div class="c" style="left:1053.98px;width:169.77px">0</div><div class="c" style="left:1223.75px;width:169.77px">-500,000</div><div class="c" style="left:1393.51px;width:169.77px">0</div><div class="c" style="left:1563.28px;width:169.77px">0</div><div class="c" style="left:1733.04px;width:169.77px">0</div><div class="c" style="left:1902.81px;width:169.77px">0</div><div class="c" style="left:2072.57px;width:169.77px">0</div><div class="c" style="left:2242.34px;width:169.77px">0</div></div>
</div>

<!-- chat widget -->
<div class="abs" style="left:24.27px;top:1323.29px;width:56.81px;height:56.81px;border-radius:50%;background:#1b439b;box-shadow:0 2px 8px rgba(0,0,0,.15)">
  <svg class="abs" style="left:16.02px;top:14.76px" width="24.52" height="27.03" viewBox="0 0 20 22"><path d="M3 0h14a3 3 0 0 1 3 3v19l-4.200-3H3a3 3 0 0 1-3-3V3a3 3 0 0 1 3-3z" fill="#fff"/><path d="M4.200 13c3.400 2.500 8.200 2.500 11.600 0" fill="none" stroke="#1b439b" stroke-width="1.500" stroke-linecap="round"/></svg>
</div>

</div>
</body>
</html>
